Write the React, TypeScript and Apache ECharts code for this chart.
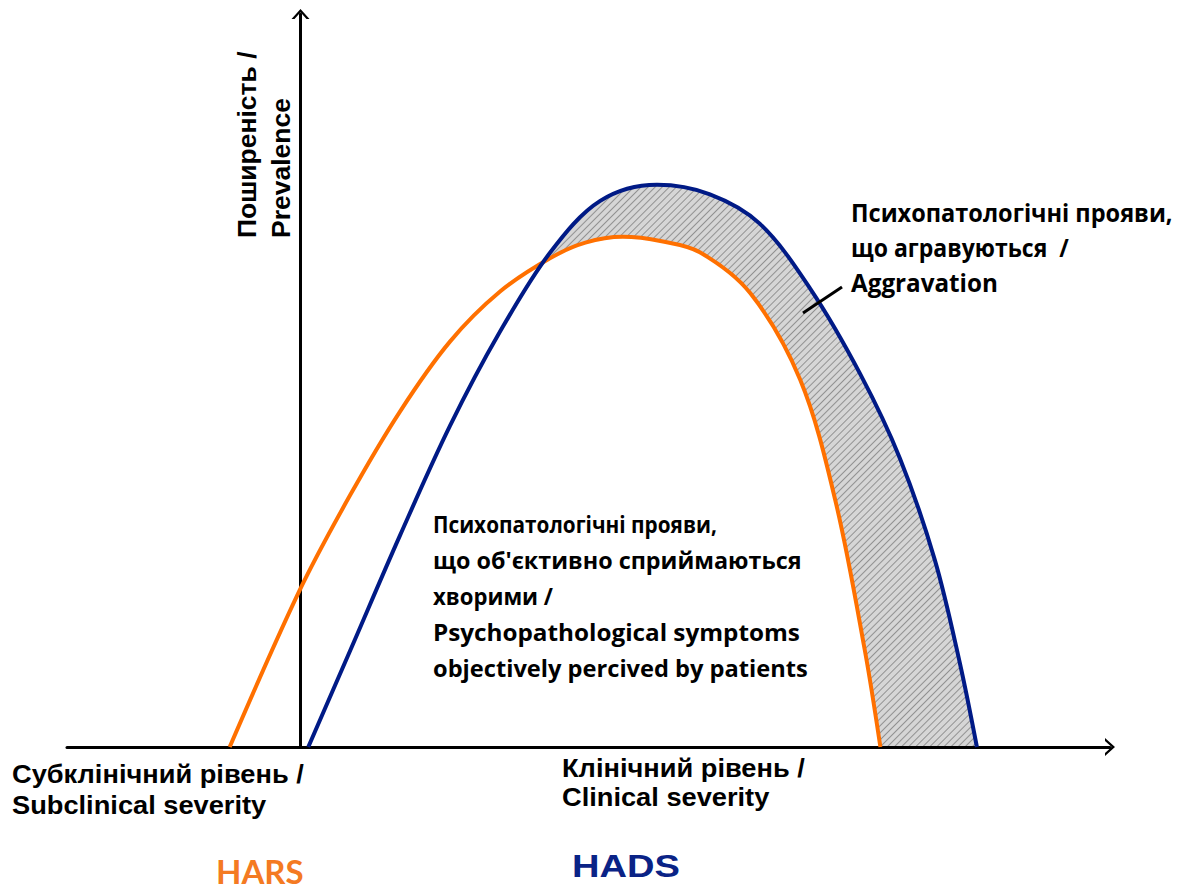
import { useEffect, useRef } from "react";
import * as echarts from "echarts";

// HADS curve (navy) — severity (x) vs prevalence (y)
const hadsX = [1.0, 6.4, 12.8, 19.2, 25.6, 32.1, 38.5, 45.8, 52.6, 59.0, 65.5, 71.9, 77.0, 81.5, 84.7, 86.9];
const hadsY = [0, 13.2, 28.9, 43.8, 56.6, 67.5, 74.5, 76.7, 75.4, 71.4, 62.5, 50.9, 39.4, 25.5, 11.5, 0];

// HARS curve (orange)
const harsX = [-9.1, -0.1, 6.4, 12.8, 19.2, 25.6, 32.1, 36.6, 41.4, 46.4, 51.3, 57.8, 64.2, 68.7, 72.5, 74.5];
const harsY = [0, 21.4, 34.4, 45.8, 55.3, 62.1, 66.7, 68.8, 69.6, 69.0, 67.5, 61.9, 50.1, 33.7, 13.2, 0];

const xRange = [-30, 104];
const yRange = [0, 100];

const yTitle = ["Поширеність /", "Prevalence"];
const subclinicalLabel = ["Субклінічний рівень /", "Subclinical severity"];
const clinicalLabel = ["Клінічний рівень /", "Clinical severity"];
const aggravationText = ["Психопатологічні прояви,", "що агравуються  /", "Aggravation"];
const perceivedText = [
  "Психопатологічні прояви,",
  "що об'єктивно сприймаються",
  "хворими /",
  "Psychopathological symptoms",
  "objectively percived by patients",
];
const harsName = "HARS";
const hadsName = "HADS";

// layout: rendered widths (px) of the annotation lines
const aggravationWidths = [322, 218, 147];
const perceivedWidths = [284, 369, 120, 367, 375];

const ORANGE = "#FF7000";
const NAVY = "#001A86";
const CAL_FAMILY = "'Open Sans', 'Noto Sans', sans-serif";

export default function App() {
  const ref = useRef<HTMLDivElement>(null);

  useEffect(() => {
    const chart = echarts.init(ref.current!, null, { renderer: "svg" });
    const hads = hadsX.map((x, i) => [x, hadsY[i]]);
    const hars = harsX.map((x, i) => [x, harsY[i]]);
    const chevron = "path://M0,10 L9,0 L18,10 L15,10 L9,3.33 L3,10 Z";
    const SM = 0.34;

    const ctx = document.createElement("canvas").getContext("2d")!;
    const measure = (text: string, size: number) => {
      ctx.font = `bold ${size}px ${CAL_FAMILY}`;
      return ctx.measureText(text).width || 1;
    };

    const arial = (size: number) => ({
      fontFamily: '"Liberation Sans", Arial, sans-serif',
      fontWeight: "bold" as const,
      fontSize: size,
      lineHeight: Math.round(size * 0.85),
    });
    const cal = (size: number, family = CAL_FAMILY) => ({
      fontFamily: family,
      fontWeight: "bold" as const,
      fontSize: size,
      lineHeight: Math.round(size * 0.85),
    });

    const txt = (text: string, x: number, y: number, font: any, fill = "#000", extra: any = {}) => ({
      type: "text",
      x,
      y,
      z: 50,
      silent: true,
      ...extra,
      style: {
        text,
        fill,
        ...font,
        textAlign: "left",
        textVerticalAlign: "middle",
        align: "left",
        verticalAlign: "middle",
      },
    });

    const fitted = (t: string, x: number, y: number, size: number, w: number) =>
      txt(t, x, y, cal(size), "#000", { scaleX: w / measure(t, size) });

    const graphic: any[] = [
      txt(yTitle[0], 247, 238, arial(25), "#000", { rotation: Math.PI / 2, scaleX: 1.06 }),
      txt(yTitle[1], 281, 238, arial(25), "#000", { rotation: Math.PI / 2, scaleX: 1.06 }),
      txt(subclinicalLabel[0], 12, 774, arial(25), "#000", { scaleX: 1.09 }),
      txt(subclinicalLabel[1], 12, 805, arial(25), "#000", { scaleX: 1.09 }),
      txt(clinicalLabel[0], 562, 768, arial(25), "#000", { scaleX: 1.09 }),
      txt(clinicalLabel[1], 562, 797, arial(25), "#000", { scaleX: 1.09 }),
      txt(harsName, 216, 871, cal(33, "Lato, 'Open Sans', sans-serif"), "#F47A22"),
      txt(hadsName, 572, 866, arial(32), "#0A2386", { scaleX: 1.19 }),
      ...aggravationText.map((t, i) => fitted(t, 851, 212 + i * 35, 25, aggravationWidths[i])),
      ...perceivedText.map((t, i) => fitted(t, 433, 524 + i * 36, 24, perceivedWidths[i])),
      {
        type: "line",
        z: 50,
        silent: true,
        shape: { x1: 803, y1: 313, x2: 842, y2: 287 },
        style: { stroke: "#000", lineWidth: 3 },
      },
    ];

    const axisBase = {
      type: "value",
      z: 5,
      axisTick: { show: false },
      axisLabel: { show: false },
      splitLine: { show: false },
    };

    chart.setOption({
      animation: false,
      backgroundColor: "#ffffff",
      grid: { left: 67, right: 69, top: 14, bottom: 144, containLabel: false },
      xAxis: {
        ...axisBase,
        min: xRange[0],
        max: xRange[1],
        axisLine: {
          show: true,
          onZero: true,
          lineStyle: { color: "#000", width: 3 },
          symbol: ["none", chevron],
          symbolSize: [18, 10],
        },
      },
      yAxis: {
        ...axisBase,
        min: yRange[0],
        max: yRange[1],
        axisLine: {
          show: true,
          onZero: true,
          lineStyle: { color: "#000", width: 3 },
          symbol: ["none", chevron],
          symbolSize: [18, 10],
        },
      },
      series: [
        {
          name: "band",
          type: "line",
          data: hads,
          smooth: SM,
          showSymbol: false,
          silent: true,
          z: 1,
          lineStyle: { width: 0, opacity: 0 },
          itemStyle: {
            color: "#d6d6d6",
            decal: {
              symbol: "rect",
              symbolSize: 1,
              color: "rgba(100,100,100,0.6)",
              dashArrayX: [1, 0],
              dashArrayY: [1, 4],
              rotation: -Math.PI / 4,
            },
          },
          areaStyle: { color: "#d6d6d6", opacity: 1 },
        },
        {
          name: "mask",
          type: "line",
          data: hars,
          smooth: SM,
          showSymbol: false,
          silent: true,
          z: 3,
          lineStyle: { width: 0, opacity: 0 },
          itemStyle: { color: "#ffffff" },
          areaStyle: { color: "#ffffff", opacity: 1 },
        },
        {
          name: "HARS",
          type: "line",
          data: hars,
          smooth: SM,
          showSymbol: false,
          silent: true,
          z: 6,
          itemStyle: { color: ORANGE },
          lineStyle: { color: ORANGE, width: 4 },
        },
        {
          name: "HADS",
          type: "line",
          data: hads,
          smooth: SM,
          showSymbol: false,
          silent: true,
          z: 7,
          itemStyle: { color: NAVY },
          lineStyle: { color: NAVY, width: 4 },
        },
      ],
      graphic,
    });

    return () => chart.dispose();
  }, []);

  return (
    <div
      ref={ref}
      style={{ position: "absolute", left: 0, top: 0, width: 1179, height: 891 }}
    />
  );
}
